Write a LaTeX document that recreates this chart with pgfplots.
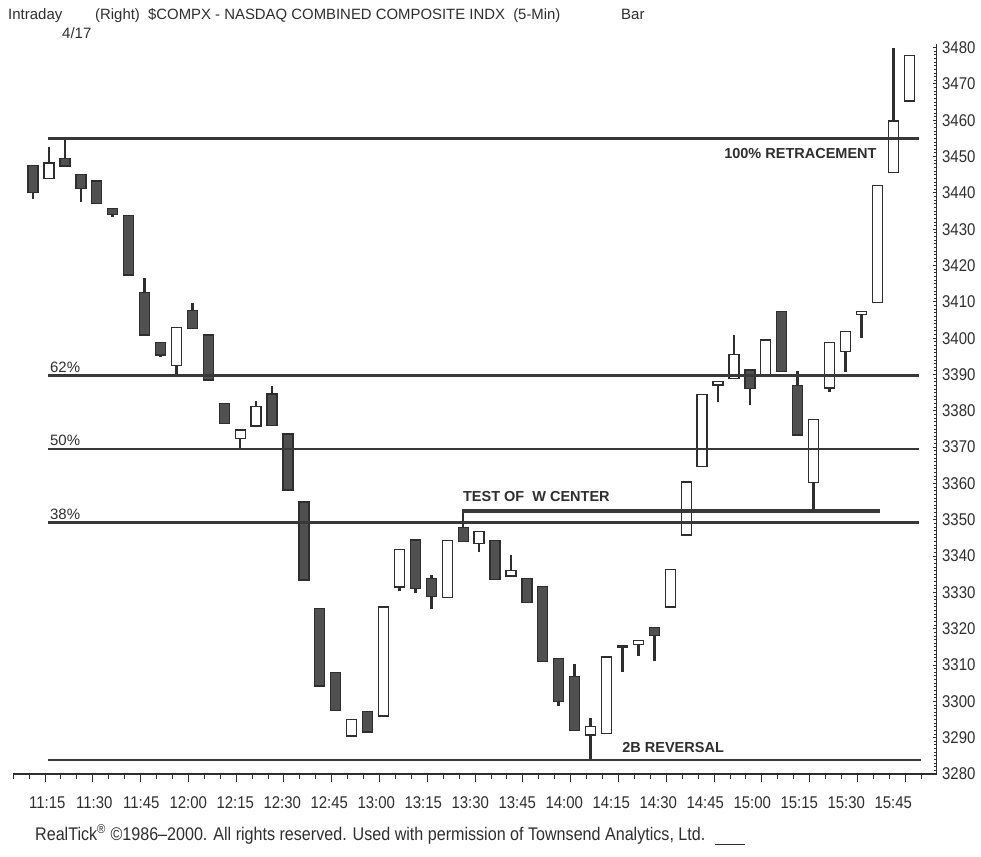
\documentclass[border=0pt]{standalone}
\usepackage{pgfplots}
\pgfplotsset{compat=1.18}
\usepackage{pgfplotstable}
\usepackage{fontspec}
\setmainfont{Liberation Sans}
\newfontfamily\narrowfont[FakeStretch=0.88]{Liberation Sans}
\definecolor{ink}{HTML}{2E2E2E}
\definecolor{darkbody}{HTML}{505050}
\definecolor{refline}{HTML}{383838}

\pgfplotstableread{
t L H B T up
10 3438.3 3447.5 3440.1 3447.5 0
15 3444.0 3452.7 3444.0 3448.2 1
20 3447.4 3455.0 3447.4 3449.5 0
25 3437.4 3445.1 3441.2 3445.1 0
30 3437.1 3443.3 3437.1 3443.3 0
35 3433.4 3435.7 3434.1 3435.7 0
40 3417.4 3433.7 3417.4 3433.7 0
45 3400.9 3416.7 3400.9 3412.6 0
50 3394.7 3398.8 3395.4 3398.8 0
55 3389.5 3402.9 3392.4 3402.9 1
60 3402.7 3409.6 3402.7 3407.7 0
65 3388.5 3400.9 3388.5 3400.9 0
70 3376.5 3382.0 3376.5 3382.0 0
75 3369.8 3374.7 3372.4 3374.7 1
80 3375.8 3382.7 3375.8 3381.1 1
85 3376.0 3386.9 3376.0 3384.6 0
90 3358.2 3373.6 3358.2 3373.6 0
95 3333.4 3354.9 3333.4 3354.9 0
100 3304.2 3325.5 3304.2 3325.5 0
105 3297.5 3307.9 3297.5 3307.9 0
110 3290.5 3295.1 3290.5 3295.1 1
115 3291.6 3297.3 3291.6 3297.3 0
120 3296.0 3326.0 3296.0 3326.0 1
125 3330.3 3341.8 3331.5 3341.8 1
130 3329.7 3344.4 3331.0 3344.4 0
135 3325.4 3334.7 3328.8 3333.8 0
140 3328.6 3344.2 3328.6 3344.2 1
145 3344.1 3352.5 3344.1 3347.8 0
150 3341.0 3346.7 3343.5 3346.7 1
155 3333.6 3344.2 3333.6 3344.2 0
160 3334.5 3340.4 3334.5 3336.1 1
165 3327.2 3333.8 3327.2 3333.8 0
170 3310.9 3331.7 3310.9 3331.7 0
175 3298.7 3311.8 3300.0 3311.8 0
180 3292.0 3310.4 3292.0 3306.9 0
185 3283.9 3295.4 3290.7 3293.0 1
190 3291.1 3312.2 3291.1 3312.2 1
195 3308.1 3315.4 3315.0 3315.4 0
200 3312.6 3316.8 3315.7 3316.8 1
205 3311.1 3320.3 3318.2 3320.3 0
210 3326.0 3336.3 3326.0 3336.3 1
215 3345.8 3360.4 3345.8 3360.4 1
220 3364.6 3384.5 3364.6 3384.5 1
225 3382.3 3388.0 3387.1 3388.0 1
230 3388.9 3400.9 3388.9 3395.5 1
235 3381.6 3391.2 3386.2 3391.2 0
240 3390.0 3399.5 3390.0 3399.5 1
245 3390.9 3407.3 3390.9 3407.3 0
250 3373.3 3390.9 3373.3 3386.9 0
255 3352.7 3377.7 3360.3 3377.7 1
260 3385.2 3398.9 3386.3 3398.9 1
265 3390.6 3401.8 3396.4 3401.8 1
270 3400.0 3407.3 3406.5 3407.3 1
275 3409.8 3442.0 3409.8 3442.0 1
280 3445.6 3480.0 3445.6 3459.8 1
285 3465.3 3477.8 3465.3 3477.8 1
}\candles

\begin{document}
\begin{tikzpicture}
\pgfplotsset{base/.style={scale only axis, width=923.6pt, height=730pt,
  xmin=3.7, xmax=293.6, ymin=3280, ymax=3481,
  at={(13pt,82pt)}, anchor=south west}}

% y axis and wicks
\begin{axis}[base, axis x line=none, axis y line*=right,
  ytick={3280,3290,...,3480}, minor y tick num=9,
  major tick length=4pt, minor tick length=2.5pt, tick align=inside,
  yticklabel pos=right,
  y axis line style={line width=1.3pt, color=ink},
  tick style={line width=0.9pt, color=ink},
  /pgf/number format/assume math mode=true,
  yticklabel style={font=\narrowfont\fontsize{17}{20}\selectfont, text=ink, xshift=2pt,
    /pgf/number format/1000 sep={}}]
\addplot[draw=none, mark=none,
  error bars/.cd, y dir=plus, y explicit, error mark=none,
  error bar style={draw=ink, line width=2.6pt}]
  table[x=t, y=L, y error expr=\thisrow{H}-\thisrow{L}] {\candles};
\end{axis}

% bodies
\begin{axis}[base, hide axis, ybar stacked, bar width=10pt]
\addplot[fill=none, draw=none] table[x=t, y=B] {\candles};
\addplot[fill=white, draw=ink, line width=1.3pt]
  table[x=t, y expr={\thisrow{up}*(\thisrow{T}-\thisrow{B})}] {\candles};
\addplot[fill=darkbody, draw=ink, line width=1.3pt]
  table[x=t, y expr={(1-\thisrow{up})*(\thisrow{T}-\thisrow{B})}] {\candles};
\end{axis}

% x axis, reference lines, annotations
\begin{axis}[base, axis y line=none, axis x line*=bottom,
  xtick={13.75,28.75,...,283.75},
  xticklabels={11:15,11:30,11:45,12:00,12:15,12:30,12:45,13:00,13:15,13:30,13:45,14:00,14:15,14:30,14:45,15:00,15:15,15:30,15:45},
  minor xtick={3.75,8.75,...,288.75},
  major tick length=8pt, minor tick length=5pt, tick align=outside,
  x axis line style={line width=1.3pt, color=ink},
  tick style={line width=1pt, color=ink},
  xticklabel style={font=\narrowfont\fontsize{17}{20}\selectfont, text=ink, yshift=-11pt,
    xshift={(2.3-0.79*\ticknum)*1pt}}]
\addplot[refline, line width=2.4pt] coordinates {(14.7,3455) (288.1,3455)};
\addplot[refline, line width=2.4pt] coordinates {(14.7,3389.7) (288.1,3389.7)};
\addplot[refline, line width=2.4pt] coordinates {(14.7,3369.5) (288.1,3369.5)};
\addplot[refline, line width=2.4pt] coordinates {(14.7,3349.3) (288.1,3349.3)};
\addplot[refline, line width=4.2pt] coordinates {(144.7,3352.5) (275.8,3352.5)};
\addplot[refline, line width=2.4pt] coordinates {(14.7,3283.9) (288.6,3283.9)};

\node[anchor=base west, inner sep=0pt, font=\fontsize{15}{18}\selectfont, text=ink, yshift=3pt] at (axis cs:15.3,3389.7) {62\%};
\node[anchor=base west, inner sep=0pt, font=\fontsize{15}{18}\selectfont, text=ink, yshift=3pt] at (axis cs:15.3,3369.5) {50\%};
\node[anchor=base west, inner sep=0pt, font=\fontsize{15}{18}\selectfont, text=ink, yshift=3pt] at (axis cs:15.3,3349.3) {38\%};
\node[anchor=base west, inner sep=0pt, font=\bfseries\fontsize{14.5}{17}\selectfont, text=ink] at (axis cs:226.9,3449.4) {100\% RETRACEMENT};
\node[anchor=base west, inner sep=0pt, font=\bfseries\fontsize{14.5}{17}\selectfont, text=ink, yshift=9pt] at (axis cs:144.9,3352.5) {TEST OF\ \ W CENTER};
\node[anchor=base west, inner sep=0pt, font=\bfseries\fontsize{14.5}{17}\selectfont, text=ink, yshift=7pt] at (axis cs:194.9,3283.9) {2B REVERSAL};
\end{axis}

% header and footer
\node[anchor=base west, inner sep=0pt, font=\fontsize{15}{18}\selectfont, text=ink] at (8pt,836pt) {Intraday};
\node[anchor=base west, inner sep=0pt, font=\fontsize{15}{18}\selectfont, text=ink] at (62pt,817pt) {4/17};
\node[anchor=base west, inner sep=0pt, font=\fontsize{14.9}{18}\selectfont, text=ink] at (95pt,836pt) {(Right)\ \ \$COMPX - NASDAQ COMBINED COMPOSITE INDX\ \ (5-Min)};
\node[anchor=base west, inner sep=0pt, font=\fontsize{15}{18}\selectfont, text=ink] at (621pt,836pt) {Bar};
\node[anchor=base west, inner sep=0pt, font=\narrowfont\fontsize{18.3}{21}\selectfont, text=ink] at (35pt,16pt) {RealTick\textsuperscript{®} ©1986–2000. All rights reserved. Used with permission of Townsend Analytics, Ltd.};
\draw[ink, line width=1pt] (715pt,12pt) -- (745pt,12pt);

\pgfresetboundingbox
\useasboundingbox (0,0) rectangle (981pt,856pt);
\end{tikzpicture}
\end{document}
